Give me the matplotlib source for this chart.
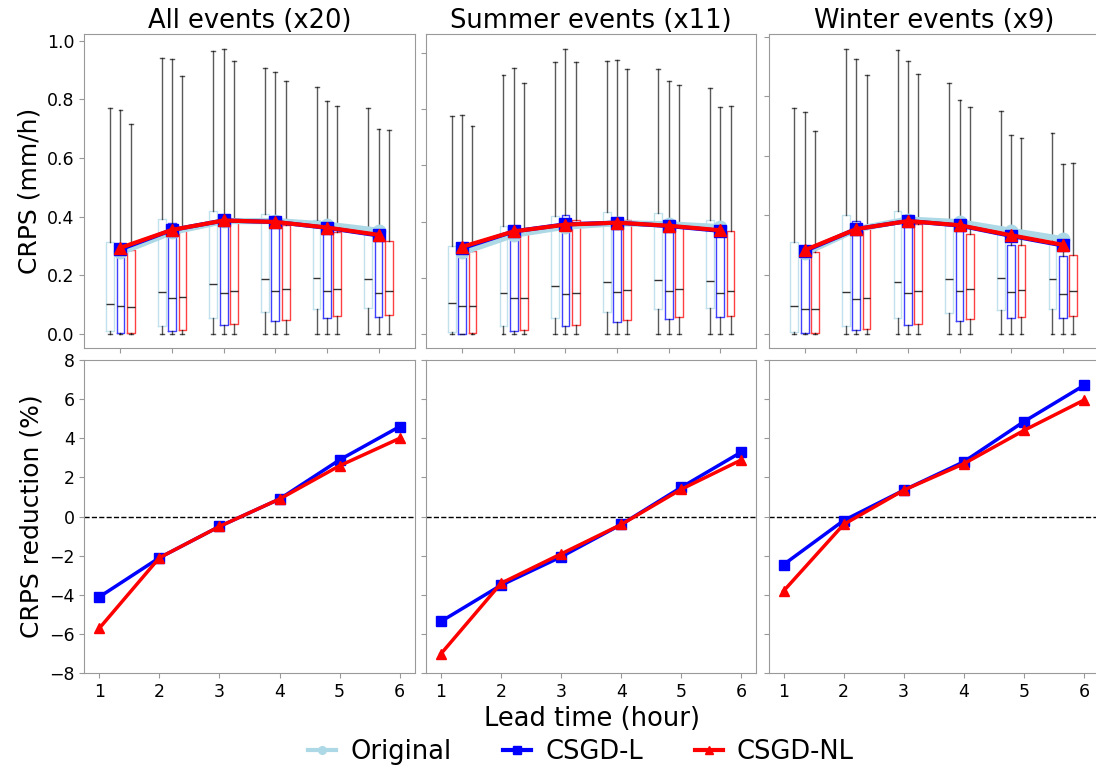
import numpy as np
import matplotlib.pyplot as plt
from matplotlib.lines import Line2D

lead = [1, 2, 3, 4, 5, 6]
titles = ['All events (x20)', 'Summer events (x11)', 'Winter events (x9)']
methods = ['Original', 'CSGD-L', 'CSGD-NL']

# mean CRPS (mm/h) per lead time
mean_all = {
    'Original': [0.278, 0.348, 0.385, 0.385, 0.373, 0.352],
    'CSGD-L': [0.289, 0.355, 0.387, 0.382, 0.362, 0.336],
    'CSGD-NL': [0.294, 0.355, 0.387, 0.382, 0.363, 0.338],
}
mean_summer = {
    'Original': [0.290, 0.353, 0.382, 0.394, 0.390, 0.380],
    'CSGD-L': [0.305, 0.365, 0.390, 0.396, 0.384, 0.367],
    'CSGD-NL': [0.310, 0.365, 0.389, 0.396, 0.385, 0.369],
}
mean_winter = {
    'Original': [0.272, 0.352, 0.385, 0.376, 0.347, 0.319],
    'CSGD-L': [0.279, 0.353, 0.380, 0.365, 0.330, 0.298],
    'CSGD-NL': [0.282, 0.353, 0.380, 0.366, 0.332, 0.300],
}

# box stats: whisker top, q3, median, q1 (whisker bottom is 0)
box_all = {
    'Original': {'hi': [0.769, 0.940, 0.964, 0.908, 0.843, 0.771],
                 'q3': [0.312, 0.392, 0.418, 0.409, 0.387, 0.360],
                 'med': [0.104, 0.142, 0.172, 0.187, 0.190, 0.187],
                 'q1': [0.010, 0.028, 0.055, 0.074, 0.085, 0.088]},
    'CSGD-L': {'hi': [0.764, 0.938, 0.973, 0.893, 0.795, 0.700],
               'q3': [0.290, 0.380, 0.404, 0.390, 0.370, 0.330],
               'med': [0.095, 0.123, 0.141, 0.146, 0.146, 0.139],
               'q1': [0.002, 0.012, 0.030, 0.043, 0.054, 0.057]},
    'CSGD-NL': {'hi': [0.715, 0.880, 0.929, 0.863, 0.778, 0.697],
                'q3': [0.287, 0.355, 0.390, 0.372, 0.347, 0.318],
                'med': [0.093, 0.125, 0.145, 0.154, 0.154, 0.148],
                'q1': [0.002, 0.014, 0.033, 0.049, 0.060, 0.064]},
}
box_summer = {
    'Original': {'hi': [0.774, 0.920, 0.968, 0.971, 0.943, 0.875],
                 'q3': [0.314, 0.385, 0.420, 0.433, 0.430, 0.404],
                 'med': [0.109, 0.145, 0.170, 0.186, 0.192, 0.189],
                 'q1': [0.008, 0.029, 0.057, 0.077, 0.088, 0.093]},
    'CSGD-L': {'hi': [0.779, 0.947, 1.015, 0.976, 0.899, 0.809],
               'q3': [0.300, 0.382, 0.423, 0.406, 0.400, 0.359],
               'med': [0.100, 0.128, 0.141, 0.148, 0.152, 0.145],
               'q1': [0.001, 0.010, 0.027, 0.042, 0.053, 0.059]},
    'CSGD-NL': {'hi': [0.739, 0.893, 0.968, 0.943, 0.886, 0.811],
                'q3': [0.297, 0.365, 0.405, 0.405, 0.382, 0.365],
                'med': [0.100, 0.128, 0.146, 0.157, 0.159, 0.152],
                'q1': [0.002, 0.013, 0.031, 0.049, 0.062, 0.065]},
}
box_winter = {
    'Original': {'hi': [0.761, 0.960, 0.955, 0.845, 0.751, 0.676],
                 'q3': [0.309, 0.400, 0.413, 0.373, 0.340, 0.306],
                 'med': [0.094, 0.140, 0.174, 0.185, 0.187, 0.185],
                 'q1': [0.006, 0.027, 0.053, 0.071, 0.080, 0.084]},
    'CSGD-L': {'hi': [0.747, 0.926, 0.918, 0.788, 0.669, 0.571],
               'q3': [0.297, 0.379, 0.395, 0.350, 0.298, 0.262],
               'med': [0.083, 0.117, 0.138, 0.144, 0.140, 0.136],
               'q1': [0.002, 0.013, 0.031, 0.044, 0.053, 0.055]},
    'CSGD-NL': {'hi': [0.684, 0.871, 0.874, 0.765, 0.660, 0.576],
                'q3': [0.275, 0.356, 0.371, 0.337, 0.298, 0.265],
                'med': [0.085, 0.121, 0.144, 0.152, 0.148, 0.144],
                'q1': [0.002, 0.016, 0.035, 0.049, 0.057, 0.060]},
}

# CRPS reduction (%) relative to Original
red_all = {'CSGD-L': [-4.1, -2.1, -0.5, 0.9, 2.9, 4.6],
           'CSGD-NL': [-5.7, -2.1, -0.5, 0.9, 2.6, 4.0]}
red_summer = {'CSGD-L': [-5.35, -3.5, -2.05, -0.4, 1.5, 3.3],
              'CSGD-NL': [-7.0, -3.4, -1.9, -0.4, 1.4, 2.9]}
red_winter = {'CSGD-L': [-2.45, -0.2, 1.35, 2.8, 4.85, 6.7],
              'CSGD-NL': [-3.8, -0.4, 1.35, 2.7, 4.4, 5.95]}

means = [mean_all, mean_summer, mean_winter]
boxes = [box_all, box_summer, box_winter]
reds = [red_all, red_summer, red_winter]

colors = {'Original': 'lightblue', 'CSGD-L': 'blue', 'CSGD-NL': 'red'}
markers = {'Original': 'o', 'CSGD-L': 's', 'CSGD-NL': '^'}
offsets = {'Original': -0.2, 'CSGD-L': 0.0, 'CSGD-NL': 0.2}
spine_col = '#999999'

fig = plt.figure(figsize=(10.96, 7.69), dpi=100)

W = 1096.0
H = 769.0
lefts = [84.3, 426.0, 768.5]
pw = 330.4

top_axes = []
bot_axes = []
for i in range(3):
    ax_t = fig.add_axes([lefts[i] / W, 1 - 348.3 / H, pw / W, 314.0 / H])
    ax_b = fig.add_axes([lefts[i] / W, 1 - 673.3 / H, pw / W, 313.3 / H])
    top_axes.append(ax_t)
    bot_axes.append(ax_b)

for i in range(3):
    ax = top_axes[i]
    for m in methods:
        b = boxes[i][m]
        stats = []
        for k in range(6):
            stats.append({'whislo': 0.0, 'q1': b['q1'][k], 'med': b['med'][k],
                          'q3': b['q3'][k], 'whishi': b['hi'][k]})
        pos = [x + offsets[m] for x in lead]
        ax.bxp(stats, positions=pos, widths=0.15, showfliers=False,
               manage_ticks=False,
               boxprops=dict(color=colors[m], lw=1, alpha=0.75),
               whiskerprops=dict(color='k', lw=1, alpha=0.65),
               capprops=dict(color='k', lw=1, alpha=0.65),
               medianprops=dict(color='k', lw=1, alpha=0.8))
    ax.plot(lead, means[i]['Original'], color='lightblue', lw=4.5,
            marker='o', ms=9, zorder=5)
    ax.plot(lead, means[i]['CSGD-L'], color='blue', lw=3,
            marker='s', ms=8, zorder=6)
    ax.plot(lead, means[i]['CSGD-NL'], color='red', lw=3,
            marker='^', ms=9, zorder=7)
    ax.set_xlim(0.3, 6.7)
    ax.set_xticks(lead)
    ax.set_xticklabels([])
    ax.set_yticks([0.0, 0.2, 0.4, 0.6, 0.8, 1.0])
    if i == 0:
        ax.set_yticklabels(['0.0', '0.2', '0.4', '0.6', '0.8', '1.0'])
        ax.set_ylabel('CRPS (mm/h)', fontsize=18)
    else:
        ax.set_yticklabels([])
    ax.set_title(titles[i], fontsize=18.5, pad=4)

    axb = bot_axes[i]
    axb.axhline(0, color='k', ls='--', lw=1)
    axb.plot(lead, reds[i]['CSGD-L'], color='blue', lw=2.5,
             marker='s', ms=7, zorder=5)
    axb.plot(lead, reds[i]['CSGD-NL'], color='red', lw=2.5,
             marker='^', ms=7, zorder=6)
    axb.set_ylim(-8, 8)
    axb.set_yticks(np.arange(-8, 9, 2))
    axb.set_xticks(lead)
    axb.set_xticklabels([str(x) for x in lead])
    if i == 0:
        axb.set_ylabel('CRPS reduction (%)', fontsize=18)
    else:
        axb.set_yticklabels([])

for ax in top_axes + bot_axes:
    for s in ax.spines.values():
        s.set_color(spine_col)
    ax.tick_params(colors=spine_col, labelcolor='k', labelsize=12.5)

fig.text(592 / W, 1 - 719 / H, 'Lead time (hour)', fontsize=18.5,
         ha='center', va='center')

handles = [Line2D([], [], color=colors[m], marker=markers[m], lw=3, ms=5.5)
           for m in methods]
fig.legend(handles, methods, loc='center', bbox_to_anchor=(581 / W, 1 - 752 / H),
           ncol=3, frameon=False, fontsize=18.5, columnspacing=2.0,
           handlelength=1.1, handletextpad=0.55)

plt.savefig('out.png', dpi=100)
